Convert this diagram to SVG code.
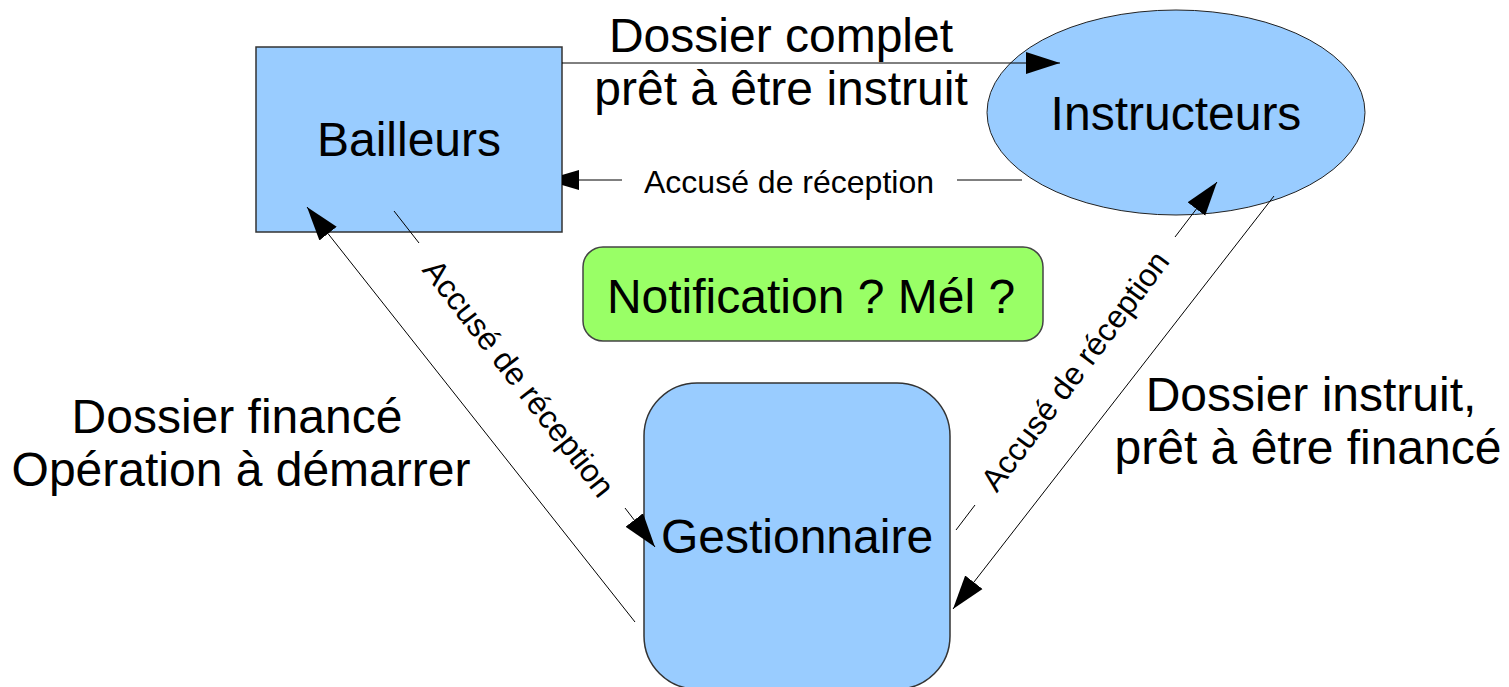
<svg xmlns="http://www.w3.org/2000/svg" width="1509" height="687" viewBox="0 0 1509 687">
<style>
.node{fill:#99ccff;stroke:#333;stroke-width:1.5}
.note{fill:#99ff66;stroke:#444;stroke-width:1.5}
.big{font-family:"Liberation Sans",Arial,sans-serif;font-size:48px;fill:#000;text-anchor:middle}
.small{font-family:"Liberation Sans",Arial,sans-serif;font-size:32px;fill:#000;text-anchor:middle}
.conn line{stroke:#000;stroke-width:1;fill:none}
</style>
<defs>
<marker id="ah" markerUnits="userSpaceOnUse" markerWidth="34" markerHeight="24" viewBox="0 0 34 24" refX="34" refY="12" orient="auto">
<path d="M0,1 L34,12 L0,23 Z" fill="#000"/>
</marker>
</defs>
<rect width="1509" height="687" fill="#fff"/>
<g id="bailleurs">
<rect class="node" x="256" y="47" width="306" height="185"/>
<text class="big" x="409" y="156">Bailleurs</text>
</g>
<g id="instructeurs">
<ellipse cx="1176" cy="112.5" rx="189" ry="102.5" fill="#99ccff" stroke="#222" stroke-width="1"/>
<text class="big" x="1176" y="130">Instructeurs</text>
</g>
<g id="notification">
<rect class="note" x="583" y="247" width="460" height="94" rx="20"/>
<text class="big" x="811" y="313">Notification ? Mél ?</text>
</g>
<g id="gestionnaire">
<rect class="node" x="644" y="383" width="306" height="306" rx="53"/>
<text class="big" x="797" y="553">Gestionnaire</text>
</g>
<g id="connectors" class="conn">
<line x1="562" y1="63" x2="1060" y2="63" marker-end="url(#ah)"/>
<text class="big" x="781" y="52">Dossier complet</text>
<text class="big" x="781" y="105">prêt à être instruit</text>
<line x1="1022" y1="180" x2="957" y2="180"/>
<line x1="622" y1="180" x2="576" y2="180"/>
<polygon points="562,175 579,170 579,190 562,185" fill="#000"/>
<text class="small" x="789" y="193">Accusé de réception</text>
<line x1="635" y1="622" x2="307" y2="207" marker-end="url(#ah)"/>
<text class="big" x="237" y="433">Dossier financé</text>
<text class="big" x="241" y="486">Opération à démarrer</text>
<line x1="394" y1="211" x2="419" y2="243"/>
<line x1="625" y1="508" x2="655" y2="547" marker-end="url(#ah)"/>
<text class="small" transform="translate(522,375.7) rotate(52.2)" x="0" y="15">Accusé de réception</text>
<line x1="956" y1="530" x2="975" y2="505"/>
<line x1="1175" y1="237" x2="1217" y2="182" marker-end="url(#ah)"/>
<text class="small" transform="translate(1075,371) rotate(-53.13)" x="0" y="11">Accusé de réception</text>
<line x1="1274" y1="196" x2="953" y2="609" marker-end="url(#ah)"/>
<text class="big" x="1311" y="411">Dossier instruit,</text>
<text class="big" x="1308" y="464">prêt à être financé</text>
</g>
</svg>
